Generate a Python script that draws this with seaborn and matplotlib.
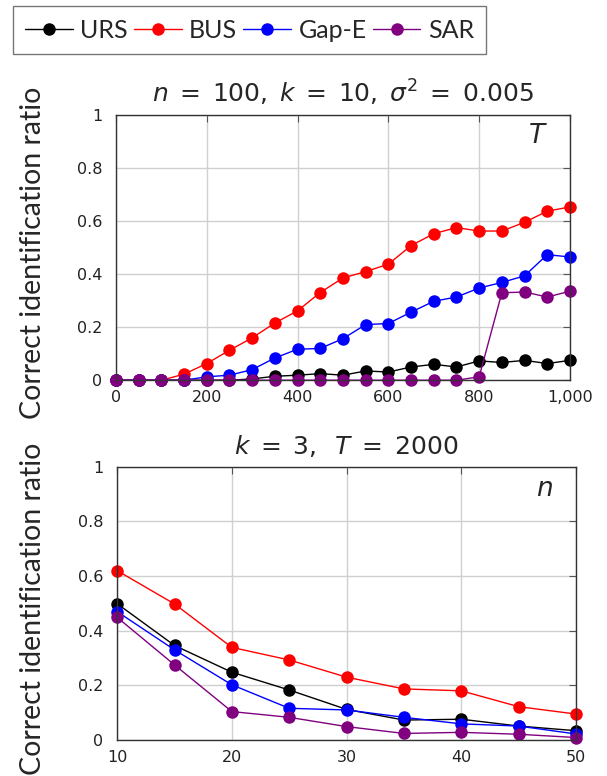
import matplotlib
matplotlib.use('Agg')
import matplotlib.pyplot as plt
import matplotlib.ticker as mticker
import seaborn as sns
import numpy as np
import pandas as pd

# данные верхнего графика (по T)
methods = ['URS', 'BUS', 'Gap-E', 'SAR']
colors = ['black', 'red', 'blue', 'purple']

T_vals = [0, 50, 100, 150, 200, 250, 300, 350, 400, 450, 500,
          550, 600, 650, 700, 750, 800, 850, 900, 950, 1000]
urs_T = [0, 0, 0, 0, 0, 0, 0.005, 0.015, 0.019, 0.025, 0.019,
         0.035, 0.031, 0.05, 0.06, 0.05, 0.073, 0.067, 0.075, 0.063, 0.075]
bus_T = [0, 0, 0, 0.023, 0.063, 0.113, 0.16, 0.216, 0.262, 0.331, 0.386,
         0.41, 0.438, 0.508, 0.553, 0.576, 0.563, 0.563, 0.596, 0.638, 0.654]
gape_T = [0, 0, 0, 0, 0.013, 0.019, 0.04, 0.084, 0.117, 0.12, 0.157,
          0.21, 0.214, 0.257, 0.298, 0.314, 0.348, 0.369, 0.394, 0.474, 0.465]
sar_T = [0, 0, 0, 0, 0, 0, 0, 0, 0, 0, 0,
         0, 0, 0, 0, 0, 0.013, 0.33, 0.333, 0.314, 0.336]

# данные нижнего графика (по n)
n_vals = [10, 15, 20, 25, 30, 35, 40, 45, 50]
urs_n = [0.499, 0.346, 0.248, 0.183, 0.112, 0.073, 0.076, 0.051, 0.034]
bus_n = [0.62, 0.498, 0.339, 0.293, 0.23, 0.187, 0.18, 0.122, 0.095]
gape_n = [0.47, 0.33, 0.202, 0.116, 0.11, 0.083, 0.059, 0.051, 0.022]
sar_n = [0.449, 0.275, 0.104, 0.083, 0.049, 0.024, 0.028, 0.021, 0.009]


def to_long(x, series, xname):
    frames = []
    for m, vals in zip(methods, series):
        frames.append(pd.DataFrame({xname: x, 'ratio': vals, 'method': m}))
    return pd.concat(frames, ignore_index=True)


df_T = to_long(T_vals, [urs_T, bus_T, gape_T, sar_T], 'T')
df_n = to_long(n_vals, [urs_n, bus_n, gape_n, sar_n], 'n')

sns.set_style('whitegrid')
plt.rcParams['font.family'] = ['Lato', 'DejaVu Sans']
plt.rcParams['mathtext.fontset'] = 'dejavusans'

fig = plt.figure(figsize=(6.07, 7.76), dpi=100)
ax1 = fig.add_axes([0.191, 0.510, 0.748, 0.3415])
ax2 = fig.add_axes([0.193, 0.0464, 0.756, 0.352])

palette = dict(zip(methods, colors))
line_kw = dict(marker='o', markersize=9, markeredgewidth=0, linewidth=1,
               clip_on=False, hue_order=methods, palette=palette)

sns.lineplot(data=df_T, x='T', y='ratio', hue='method', ax=ax1, **line_kw)
sns.lineplot(data=df_n, x='n', y='ratio', hue='method', ax=ax2, **line_kw)

ax1.set_xlim(0, 1000)
ax1.set_xticks([0, 200, 400, 600, 800, 1000])
ax1.xaxis.set_major_formatter(mticker.FuncFormatter(lambda v, p: f'{int(v):,}'))
ax2.set_xlim(10, 50)
ax2.set_xticks([10, 20, 30, 40, 50])

for ax in (ax1, ax2):
    ax.set_ylim(0, 1)
    ax.set_yticks([0, 0.2, 0.4, 0.6, 0.8, 1])
    ax.yaxis.set_major_formatter(mticker.FuncFormatter(lambda v, p: f'{v:g}'))
    ax.set_xlabel('')
    ax.set_ylabel('Correct identification ratio', fontsize=20.5)
    ax.yaxis.set_label_coords(-0.155, 0.48)
    ax.get_legend().remove()
    ax.grid(True, color='#d0d0d0', linewidth=1)
    for s in ax.spines.values():
        s.set_color('#333333')
        s.set_linewidth(1)
    ax.tick_params(axis='both', direction='in', length=5, colors='#555555',
                   labelcolor='#222222', top=True, right=True,
                   labelfontfamily='DejaVu Sans', labelsize=11.5)
    ax.tick_params(axis='y', pad=10)
    ax.tick_params(axis='x', pad=7)
    ax.set_axisbelow(True)

ax1.set_title(r'$n\;=\;100,\;k\;=\;10,\;\sigma^2\;=\;0.005$', fontsize=18, pad=9)
ax2.set_title(r'$k\;=\;3,\;\;T\;=\;2000$', fontsize=18, pad=9)
ax1.text(0.93, 0.925, r'$T$', transform=ax1.transAxes, fontsize=19,
         ha='center', va='center')
ax2.text(0.932, 0.92, r'$n$', transform=ax2.transAxes, fontsize=19,
         ha='center', va='center')

handles, labels = ax1.get_legend_handles_labels()
leg = fig.legend(handles, labels, loc='upper left', bbox_to_anchor=(0.021, 0.992),
                 ncol=4, fontsize=18, frameon=True, fancybox=False,
                 handlelength=1.9, handletextpad=0.3, columnspacing=0.25,
                 borderpad=0.5, borderaxespad=0)
leg.get_frame().set_edgecolor('#555555')
leg.get_frame().set_linewidth(1)

fig.savefig('out.png', dpi=100)
